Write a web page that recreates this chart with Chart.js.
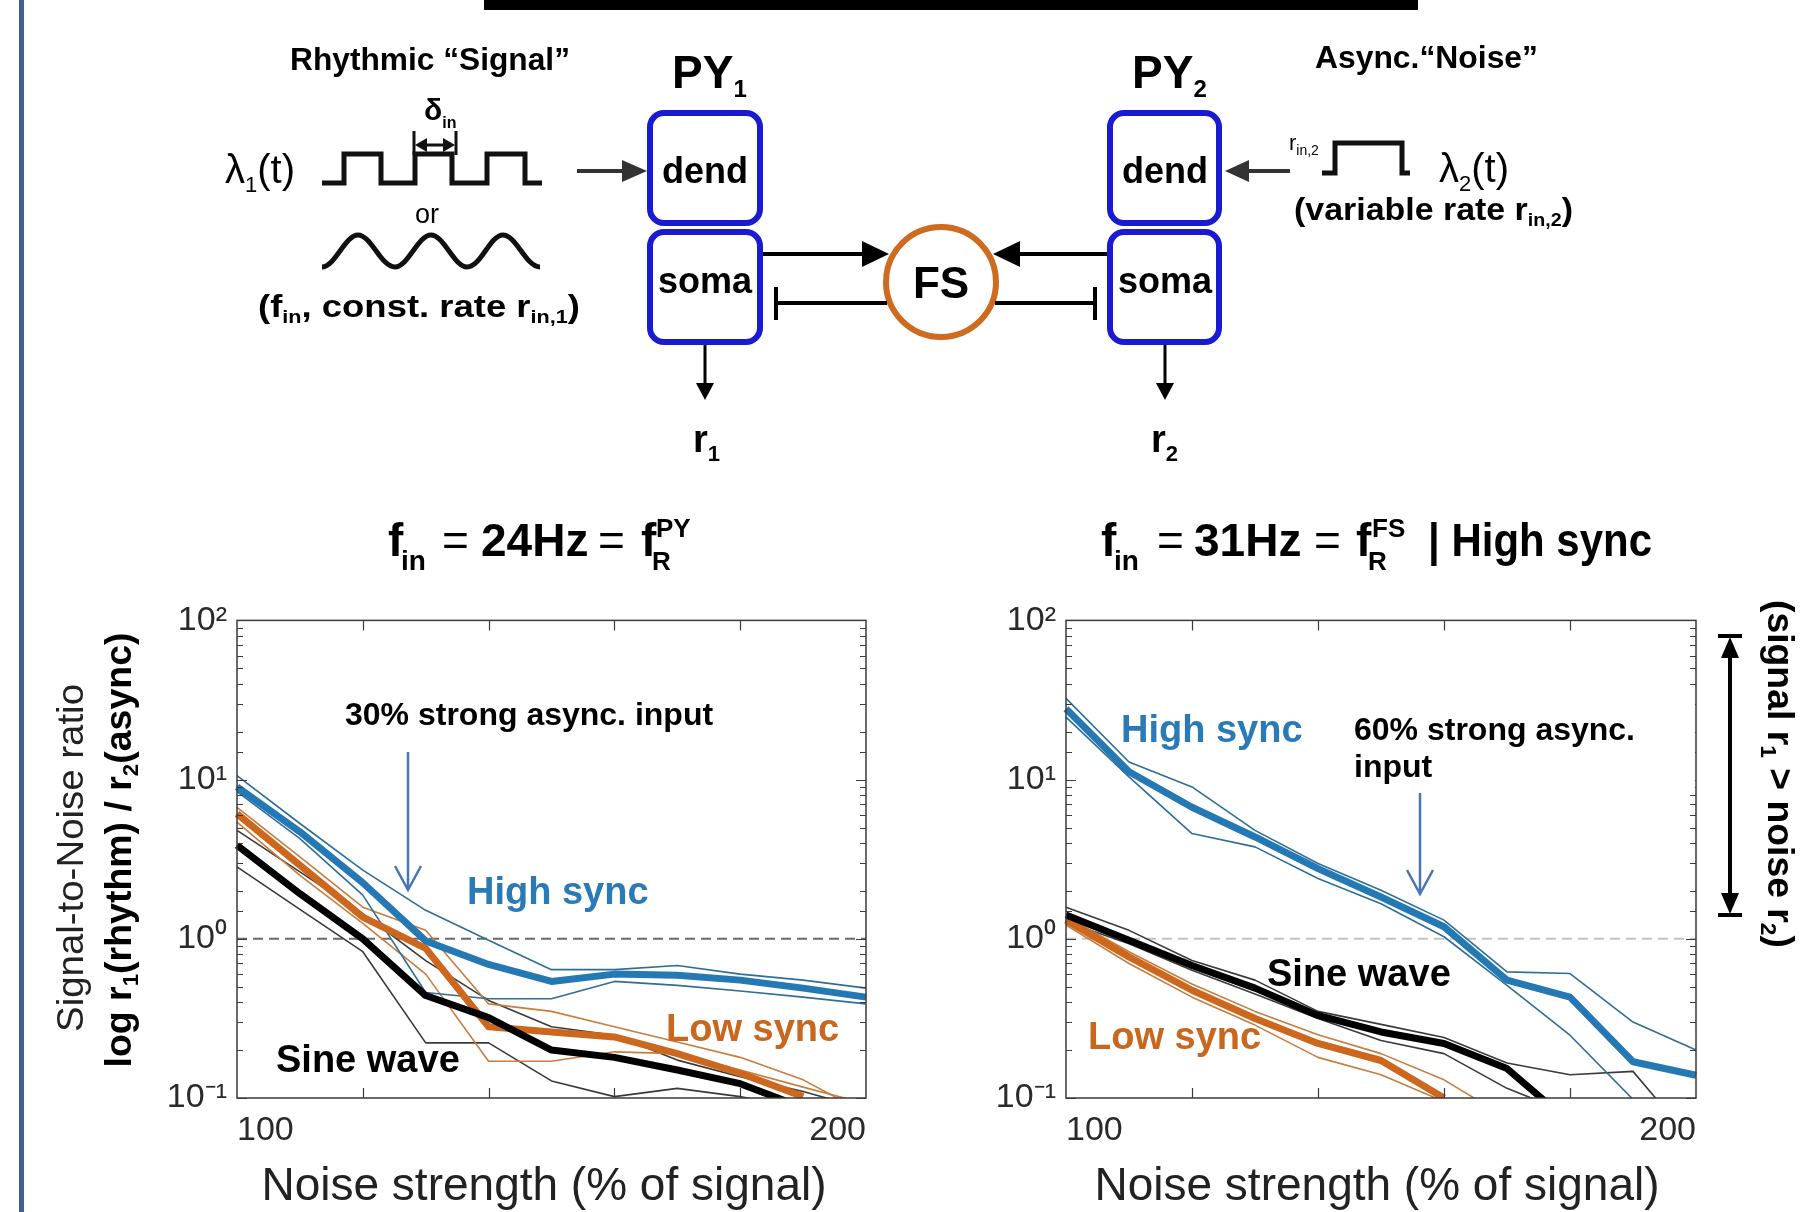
<!DOCTYPE html>
<html>
<head>
<meta charset="utf-8">
<title>Signal-to-noise ratio of rhythmic vs asynchronous input</title>
<script src="https://cdn.jsdelivr.net/npm/chart.js@4.4.1/dist/chart.umd.min.js"></script>
<style>
  html, body { margin: 0; padding: 0; background: #ffffff; }
  body { width: 1818px; height: 1212px; position: relative; overflow: hidden;
         font-family: 'Liberation Sans', Arial, sans-serif; }
  .plot { position: absolute; }
  #overlay { position: absolute; left: 0; top: 0; pointer-events: none; }
  #overlay text { font-family: 'Liberation Sans', Arial, sans-serif; }
  .b { font-weight: bold; }
</style>
</head>
<body>
<div class="plot" style="left:130px; top:590px;"><canvas id="chartPY" width="770" height="560"></canvas></div>
<div class="plot" style="left:959px; top:590px;"><canvas id="chartFS" width="771" height="560"></canvas></div>

<svg id="overlay" width="1818" height="1212" viewBox="0 0 1818 1212" xmlns="http://www.w3.org/2000/svg">
  <!-- page frame -->
  <rect x="19" y="0" width="5" height="1212" fill="#3d5f91"/>
  <rect x="484" y="0" width="934" height="10" fill="#000"/>

  <!-- ===== circuit schematic ===== -->
  <text x="430" y="70" text-anchor="middle" class="b" font-size="32" textLength="280" lengthAdjust="spacingAndGlyphs">Rhythmic “Signal”</text>
  <text x="1315" y="68" class="b" font-size="32" textLength="223" lengthAdjust="spacingAndGlyphs">Async.“Noise”</text>

  <text x="672" y="88" class="b" font-size="46">PY<tspan font-size="24" dy="9">1</tspan></text>
  <text x="1132" y="88" class="b" font-size="46">PY<tspan font-size="24" dy="9">2</tspan></text>

  <!-- PY1 compartments -->
  <rect x="650" y="113" width="110" height="110" rx="14" fill="none" stroke="#1a1ad2" stroke-width="6"/>
  <rect x="650" y="232" width="110" height="110" rx="14" fill="none" stroke="#1a1ad2" stroke-width="6"/>
  <text x="705" y="183" text-anchor="middle" class="b" font-size="36">dend</text>
  <text x="705" y="293" text-anchor="middle" class="b" font-size="36">soma</text>

  <!-- PY2 compartments -->
  <rect x="1110" y="113" width="109" height="110" rx="14" fill="none" stroke="#1a1ad2" stroke-width="6"/>
  <rect x="1110" y="232" width="109" height="110" rx="14" fill="none" stroke="#1a1ad2" stroke-width="6"/>
  <text x="1165" y="183" text-anchor="middle" class="b" font-size="36">dend</text>
  <text x="1165" y="293" text-anchor="middle" class="b" font-size="36">soma</text>

  <!-- FS interneuron -->
  <circle cx="941" cy="282" r="55" fill="none" stroke="#cf6b1e" stroke-width="6"/>
  <text x="941" y="298" text-anchor="middle" class="b" font-size="44">FS</text>

  <!-- excitatory PY -> FS -->
  <line x1="763" y1="254" x2="866" y2="254" stroke="#000" stroke-width="4"/>
  <polygon points="889,254 862,241 862,267" fill="#000"/>
  <line x1="1107" y1="254" x2="1016" y2="254" stroke="#000" stroke-width="4"/>
  <polygon points="993,254 1020,241 1020,267" fill="#000"/>
  <!-- inhibitory FS -> PY -->
  <line x1="887" y1="303" x2="776" y2="303" stroke="#000" stroke-width="4"/>
  <line x1="776" y1="287" x2="776" y2="320" stroke="#000" stroke-width="4"/>
  <line x1="995" y1="303" x2="1095" y2="303" stroke="#000" stroke-width="4"/>
  <line x1="1095" y1="287" x2="1095" y2="320" stroke="#000" stroke-width="4"/>

  <!-- outputs -->
  <line x1="705" y1="345" x2="705" y2="386" stroke="#000" stroke-width="3"/>
  <polygon points="705,400 696,383 714,383" fill="#000"/>
  <line x1="1165" y1="345" x2="1165" y2="386" stroke="#000" stroke-width="3"/>
  <polygon points="1165,400 1156,383 1174,383" fill="#000"/>
  <text x="693" y="452" class="b" font-size="38">r<tspan font-size="22" dy="9">1</tspan></text>
  <text x="1151" y="452" class="b" font-size="38">r<tspan font-size="22" dy="9">2</tspan></text>

  <!-- rhythmic drive -->
  <text x="225" y="183" font-size="40">λ<tspan font-size="22" dy="9">1</tspan><tspan dy="-9">(t)</tspan></text>
  <path d="M322,183 H344 V154 H381 V183 H415 V154 H452 V183 H487 V154 H525 V183 H542" fill="none" stroke="#111" stroke-width="5"/>
  <text x="424" y="120" class="b" font-size="30">δ<tspan font-size="16" dy="8">in</tspan></text>
  <line x1="421" y1="145" x2="449" y2="145" stroke="#111" stroke-width="3"/>
  <polygon points="415,145 427,138 427,152" fill="#111"/>
  <polygon points="455,145 443,138 443,152" fill="#111"/>
  <line x1="414" y1="131" x2="414" y2="155" stroke="#111" stroke-width="3"/>
  <line x1="456" y1="131" x2="456" y2="155" stroke="#111" stroke-width="3"/>
  <text x="427" y="223" text-anchor="middle" font-size="27">or</text>
  <path d="M322,267 C335,267 345,235 358,235 C371,235 381,267 395,267 C408,267 418,235 431,235 C444,235 454,267 467,267 C481,267 490,235 503,235 C516,235 526,267 540,267"
        fill="none" stroke="#111" stroke-width="5"/>
  <text x="258" y="317" class="b" font-size="32" textLength="322" lengthAdjust="spacingAndGlyphs">(f<tspan font-size="19" dy="6">in</tspan><tspan dy="-6">, const. rate r</tspan><tspan font-size="19" dy="6">in,1</tspan><tspan dy="-6">)</tspan></text>
  <line x1="577" y1="171" x2="628" y2="171" stroke="#333" stroke-width="4"/>
  <polygon points="647,171 622,160 622,182" fill="#333"/>

  <!-- asynchronous drive -->
  <line x1="1290" y1="171" x2="1243" y2="171" stroke="#333" stroke-width="4"/>
  <polygon points="1225,171 1249,160 1249,182" fill="#333"/>
  <text x="1289" y="150" font-size="22">r<tspan font-size="14" dy="5">in,2</tspan></text>
  <path d="M1322,173 H1335 V143 H1402 V173 H1410" fill="none" stroke="#111" stroke-width="5"/>
  <text x="1439" y="182" font-size="40">λ<tspan font-size="22" dy="9">2</tspan><tspan dy="-9">(t)</tspan></text>
  <text x="1294" y="220" class="b" font-size="31" textLength="279" lengthAdjust="spacingAndGlyphs">(variable rate r<tspan font-size="18" dy="6">in,2</tspan><tspan dy="-6">)</tspan></text>

  <!-- ===== panel titles ===== -->
  <g font-size="46">
    <text x="388" y="556" class="b">f</text>
    <text x="401" y="570" class="b" font-size="28">in</text>
    <text x="442" y="556">=</text>
    <text x="481" y="556" class="b">24Hz</text>
    <text x="598" y="556">=</text>
    <text x="641" y="556" class="b">f</text>
    <text x="656" y="537" class="b" font-size="26">PY</text>
    <text x="652" y="570" class="b" font-size="26">R</text>

    <text x="1101" y="556" class="b">f</text>
    <text x="1114" y="570" class="b" font-size="28">in</text>
    <text x="1157" y="556">=</text>
    <text x="1194" y="556" class="b">31Hz</text>
    <text x="1314" y="556">=</text>
    <text x="1356" y="556" class="b">f</text>
    <text x="1372" y="537" class="b" font-size="26">FS</text>
    <text x="1368" y="570" class="b" font-size="26">R</text>
    <text x="1428" y="556" class="b" textLength="224" lengthAdjust="spacingAndGlyphs">| High sync</text>
  </g>

  <!-- ===== axis titles ===== -->
  <text transform="translate(83,858) rotate(-90)" text-anchor="middle" font-size="36" fill="#222" textLength="348" lengthAdjust="spacingAndGlyphs">Signal-to-Noise ratio</text>
  <text transform="translate(131,850) rotate(-90)" text-anchor="middle" class="b" font-size="37" textLength="435" lengthAdjust="spacingAndGlyphs">log r<tspan font-size="22" dy="7">1</tspan><tspan dy="-7">(rhythm) / r</tspan><tspan font-size="22" dy="7">2</tspan><tspan dy="-7">(async)</tspan></text>
  <text x="544" y="1200" text-anchor="middle" font-size="46" fill="#222">Noise strength (% of signal)</text>
  <text x="1377" y="1200" text-anchor="middle" font-size="46" fill="#222">Noise strength (% of signal)</text>

  <!-- ===== in-plot annotations, 24 Hz panel ===== -->
  <rect x="327" y="686" width="406" height="56" fill="#ffffff"/>
  <text x="345" y="725" class="b" font-size="32">30% strong async. input</text>
  <line x1="408" y1="752" x2="408" y2="888" stroke="#4a74b4" stroke-width="2.5"/>
  <polyline points="395,866 408,890 421,866" fill="none" stroke="#4a74b4" stroke-width="2.5"/>
  <text x="467" y="904" class="b" font-size="38" fill="#2a7ab8">High sync</text>
  <text x="666" y="1041" class="b" font-size="38" fill="#c9671f">Low sync</text>
  <text x="276" y="1072" class="b" font-size="38" fill="#000">Sine wave</text>

  <!-- ===== in-plot annotations, 31 Hz panel ===== -->
  <rect x="1335" y="697" width="360" height="95" fill="#ffffff"/>
  <text x="1354" y="740" class="b" font-size="32">60% strong async.</text>
  <text x="1354" y="777" class="b" font-size="32">input</text>
  <line x1="1420" y1="793" x2="1420" y2="892" stroke="#4a74b4" stroke-width="2.5"/>
  <polyline points="1407,870 1420,894 1433,870" fill="none" stroke="#4a74b4" stroke-width="2.5"/>
  <text x="1121" y="742" class="b" font-size="38" fill="#2a7ab8">High sync</text>
  <text x="1267" y="986" class="b" font-size="38" fill="#000">Sine wave</text>
  <text x="1088" y="1049" class="b" font-size="38" fill="#c9671f">Low sync</text>

  <!-- range marker on the right -->
  <line x1="1730" y1="650" x2="1730" y2="901" stroke="#000" stroke-width="4"/>
  <polygon points="1730,637 1721,658 1739,658" fill="#000"/>
  <polygon points="1730,914 1721,893 1739,893" fill="#000"/>
  <line x1="1718" y1="636" x2="1742" y2="636" stroke="#000" stroke-width="4"/>
  <line x1="1718" y1="915" x2="1742" y2="915" stroke="#000" stroke-width="4"/>
  <text transform="translate(1768,774) rotate(90)" text-anchor="middle" class="b" font-size="36" textLength="348" lengthAdjust="spacingAndGlyphs">(signal r<tspan font-size="22" dy="7">1</tspan><tspan dy="-7"> &gt; noise r</tspan><tspan font-size="22" dy="7">2</tspan><tspan dy="-7">)</tspan></text>
</svg>

<script>
// Noise strength in % of signal (x axis)
const noisePct = [100, 110, 120, 130, 140, 150, 160, 170, 180, 190, 200];

// f_in = 24 Hz (PY resonance): signal-to-noise ratio r1/r2
const pyHighMean = [9.0, 4.7, 2.25, 0.97, 0.69, 0.54, 0.60, 0.59, 0.55, 0.49, 0.43];
const pyHighUpper = [10.6, 5.3, 2.7, 1.51, 0.98, 0.64, 0.64, 0.68, 0.60, 0.55, 0.49];
const pyHighLower = [8.4, 4.26, 1.88, 0.46, 0.42, 0.42, 0.54, 0.51, 0.47, 0.43, 0.39];
const pyLowMean = [6.1, 2.9, 1.37, 0.87, 0.28, 0.26, 0.242, 0.19, 0.143, 0.102, null];
const pyLowUpper = [6.7, 3.27, 1.58, 1.13, 0.39, 0.35, 0.28, 0.225, 0.18, 0.13, 0.08];
const pyLowLower = [5.4, 2.5, 1.25, 0.6, 0.17, 0.17, 0.195, 0.19, 0.15, 0.117, 0.092];
const pySineMean = [3.87, 1.92, 1.0, 0.44, 0.32, 0.2, 0.18, 0.15, 0.123, 0.087, null];
const pySineUpper = [4.8, 2.63, 1.44, 0.73, 0.41, 0.28, 0.248, 0.173, 0.136, 0.11, 0.085];
const pySineLower = [2.83, 1.53, 0.83, 0.222, 0.222, 0.128, 0.102, 0.115, 0.102, 0.085, null];

// f_in = 31 Hz (FS resonance), high sync
const fsHighMean = [27.9, 11.2, 6.7, 4.36, 2.76, 1.83, 1.19, 0.55, 0.43, 0.169, 0.139];
const fsHighUpper = [32.4, 12.9, 9.0, 4.8, 2.97, 2.02, 1.31, 0.62, 0.605, 0.30, 0.2];
const fsHighLower = [24.7, 10.4, 4.58, 3.78, 2.39, 1.66, 1.03, 0.51, 0.248, 0.098, null];
const fsLowMean = [1.31, 0.77, 0.475, 0.316, 0.22, 0.172, 0.1, null, null, null, null];
const fsLowUpper = [1.38, 0.83, 0.52, 0.35, 0.25, 0.19, 0.13, 0.075, null, null, null];
const fsLowLower = [1.22, 0.70, 0.43, 0.287, 0.18, 0.14, 0.095, null, null, null, null];
const fsSineMean = [1.41, 0.98, 0.68, 0.49, 0.33, 0.26, 0.22, 0.153, 0.07, null, null];
const fsSineUpper = [1.58, 1.13, 0.73, 0.55, 0.35, 0.29, 0.24, 0.166, 0.14, 0.147, 0.05];
const fsSineLower = [1.28, 0.93, 0.635, 0.45, 0.316, 0.23, 0.19, 0.115, 0.08, null, null];

// Reference level r1 = r2
const unityLevel = [1, 1];
const unityX = [100, 200];

// Labels for the decades of the log axis
const decadeLabels = { '-1': '10⁻¹', '0': '10⁰', '1': '10¹', '2': '10²' };
const xEdgeLabels = [100, 200];

const FONT = "'Liberation Sans', Arial, sans-serif";
Chart.defaults.font.family = FONT;

const C = {
  blue: '#2479b5', blueThin: '#2f6e96',
  orange: '#cd671e', orangeThin: '#c77d3e',
  black: '#000000', blackThin: '#3a3a3a'
};

function pts(ys, xs) {
  const xv = xs || noisePct;
  return ys.map((v, i) => ({ x: xv[i], y: v }));
}

function line(ys, color, width, extra) {
  return Object.assign({
    data: pts(ys),
    borderColor: color,
    backgroundColor: color,
    borderWidth: width,
    pointRadius: 0,
    fill: false,
    tension: 0,
    spanGaps: false,
    borderJoinStyle: 'round',
    clip: { left: 5, right: 5, top: 0, bottom: 0 }
  }, extra || {});
}

// Box with inward ticks on all four sides
const boxTicks = {
  id: 'boxTicks',
  afterDatasetsDraw(chart) {
    const { ctx, chartArea: a, scales: { x, y } } = chart;
    ctx.save();
    ctx.strokeStyle = '#3a3a3a';
    ctx.lineWidth = 1.5;
    ctx.strokeRect(a.left, a.top, a.right - a.left, a.bottom - a.top);
    ctx.lineWidth = 1.2;
    ctx.beginPath();
    x.ticks.forEach(t => {
      if (t.value <= x.min || t.value >= x.max) return;
      const px = Math.round(x.getPixelForValue(t.value)) + 0.5;
      ctx.moveTo(px, a.bottom); ctx.lineTo(px, a.bottom - 10);
      ctx.moveTo(px, a.top); ctx.lineTo(px, a.top + 10);
    });
    y.ticks.forEach(t => {
      const lg = Math.log10(t.value);
      const major = Math.abs(lg - Math.round(lg)) < 1e-6;
      const len = major ? 10 : 6;
      const py = Math.round(y.getPixelForValue(t.value)) + 0.5;
      ctx.moveTo(a.left, py); ctx.lineTo(a.left + len, py);
      ctx.moveTo(a.right, py); ctx.lineTo(a.right - len, py);
    });
    ctx.stroke();
    ctx.restore();
  }
};

function makeChart(id, sets, dashColor) {
  const datasets = [
    line(sets.sine, C.black, 7),
    line(sets.high, C.blue, 7),
    line(sets.low, C.orange, 7),
    line(sets.highU, C.blueThin, 1.6),
    line(sets.highL, C.blueThin, 1.6),
    line(sets.lowU, C.orangeThin, 1.6),
    line(sets.lowL, C.orangeThin, 1.6),
    line(sets.sineU, C.blackThin, 1.6),
    line(sets.sineL, C.blackThin, 1.6),
    Object.assign(line(unityLevel, dashColor, 2), { data: pts(unityLevel, unityX), borderDash: [10, 6] })
  ];
  return new Chart(document.getElementById(id), {
    type: 'line',
    data: { datasets },
    options: {
      responsive: false,
      animation: false,
      devicePixelRatio: 1,
      layout: { padding: { top: 30, right: 34, left: 0, bottom: 0 } },
      plugins: { legend: { display: false }, tooltip: { enabled: false } },
      scales: {
        x: {
          type: 'linear', min: 100, max: 200,
          grid: { display: false, drawTicks: false },
          border: { display: false },
          ticks: {
            stepSize: 20, autoSkip: false, maxRotation: 0, align: 'inner', padding: 12,
            color: '#2a2a2a', font: { size: 34, family: FONT },
            callback: v => (xEdgeLabels.includes(v) ? String(v) : '')
          },
          afterFit: s => { s.height = 52; }
        },
        y: {
          type: 'logarithmic', min: 0.1, max: 100,
          grid: { display: false, drawTicks: false },
          border: { display: false },
          ticks: {
            autoSkip: false, padding: 10,
            color: '#2a2a2a', font: { size: 34, family: FONT },
            callback: v => {
              const lg = Math.log10(v);
              const r = Math.round(lg);
              return Math.abs(lg - r) < 1e-6 ? (decadeLabels[String(r)] || '') : '';
            }
          },
          afterFit: s => { s.width = 107; }
        }
      }
    },
    plugins: [boxTicks]
  });
}

makeChart('chartPY', {
  high: pyHighMean, highU: pyHighUpper, highL: pyHighLower,
  low: pyLowMean, lowU: pyLowUpper, lowL: pyLowLower,
  sine: pySineMean, sineU: pySineUpper, sineL: pySineLower
}, '#6a6a6a');

makeChart('chartFS', {
  high: fsHighMean, highU: fsHighUpper, highL: fsHighLower,
  low: fsLowMean, lowU: fsLowUpper, lowL: fsLowLower,
  sine: fsSineMean, sineU: fsSineUpper, sineL: fsSineLower
}, '#c4c4c4');
</script>
</body>
</html>
